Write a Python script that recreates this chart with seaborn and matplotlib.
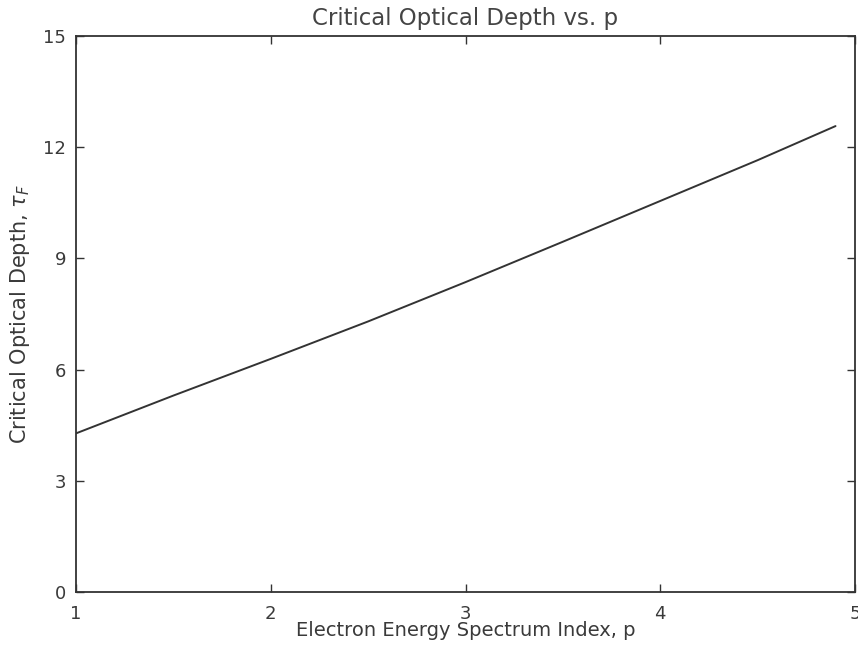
import matplotlib
matplotlib.use("Agg")
import matplotlib.pyplot as plt
import seaborn as sns
import pandas as pd

# Electron energy spectrum index p and the critical optical depth tau_F
p_index = [1.0, 1.5, 2.0, 2.5, 3.0, 3.5, 4.0, 4.5, 4.9]
tau_crit = [4.28, 5.30, 6.29, 7.30, 8.36, 9.45, 10.55, 11.65, 12.57]

x_ticks = [1, 2, 3, 4, 5]
y_ticks = [0, 3, 6, 9, 12, 15]

df = pd.DataFrame({"p": p_index, "tau": tau_crit})

sns.set_theme(style="ticks")
plt.rcParams["font.family"] = ["DejaVu Sans"]
text_color = "#3a3a3a"

fig = plt.figure(figsize=(8.58, 6.5), dpi=100)
ax = fig.add_axes([0.0886, 0.0892, 0.9079, 0.8554])

sns.lineplot(data=df, x="p", y="tau", ax=ax, color="#333333", linewidth=1.4)

ax.set_xlim(1, 5)
ax.set_ylim(0, 15)
ax.set_xticks(x_ticks)
ax.set_yticks(y_ticks)
ax.tick_params(direction="in", length=6, width=1.0, colors="#333333",
               labelcolor=text_color, labelsize=13,
               top=True, right=True)
ax.tick_params(axis="x", pad=9)
ax.tick_params(axis="y", pad=7)
for side in ax.spines.values():
    side.set_color("#333333")
    side.set_linewidth(1.3)
    side.set_visible(True)

ax.set_title("Critical Optical Depth vs. p", fontsize=16.5, color="#444444", pad=8)
ax.set_xlabel("Electron Energy Spectrum Index, p", fontsize=14, color=text_color, labelpad=-1)
ax.set_ylabel(r"Critical Optical Depth, $\tau_F$", fontsize=15, color=text_color, labelpad=8)

fig.savefig("out.png", dpi=100, facecolor="white")
